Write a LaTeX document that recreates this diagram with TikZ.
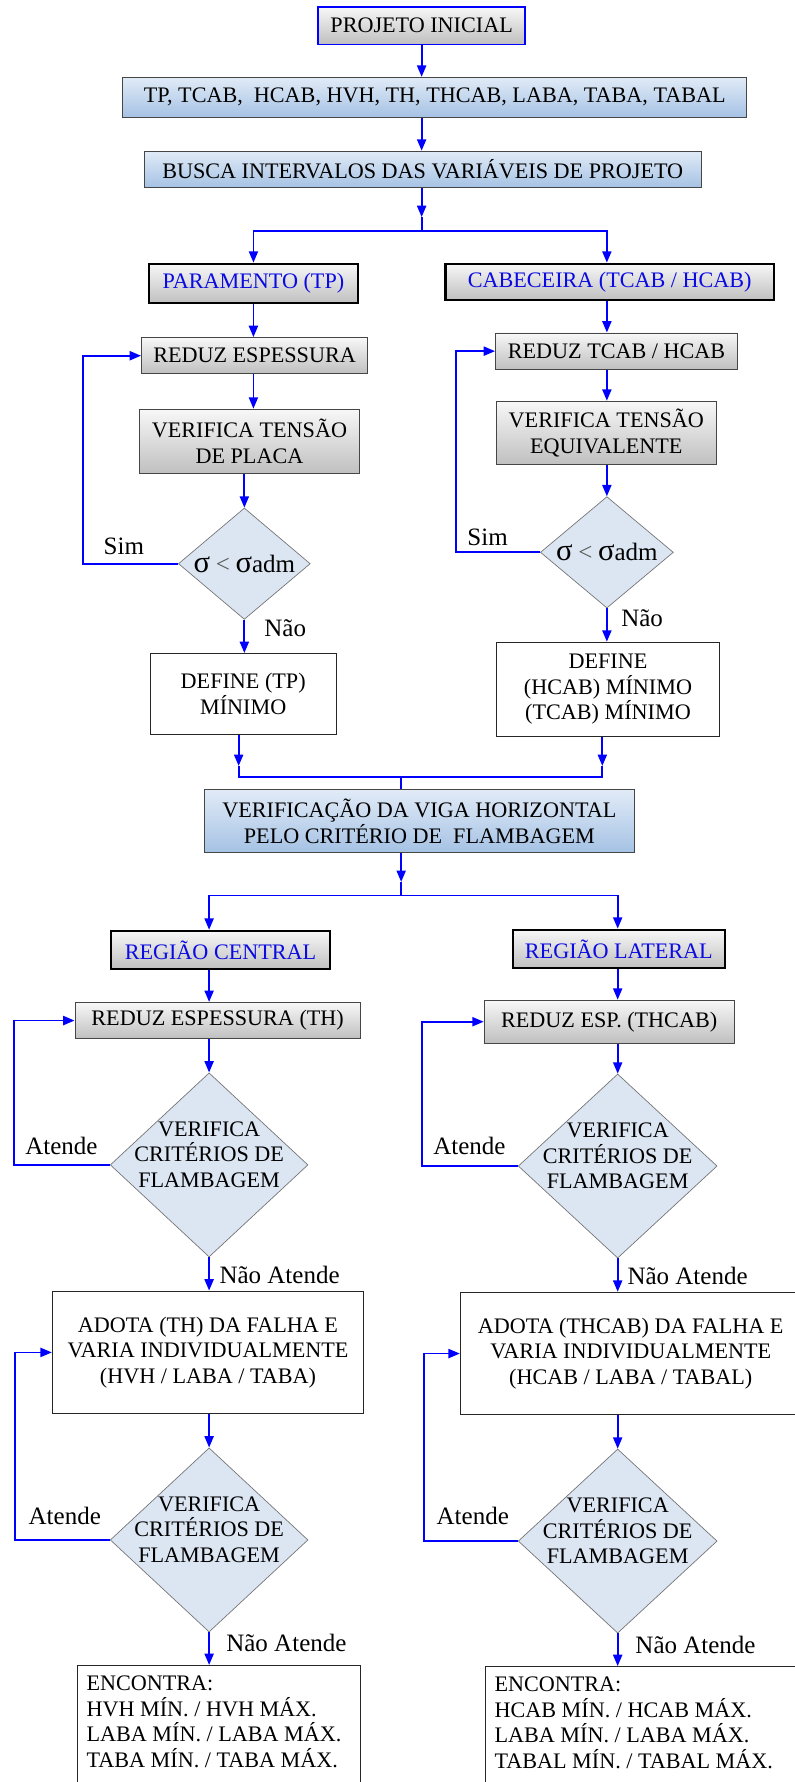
\documentclass[tikz,border=0pt]{standalone}
\usepackage{fontspec}
\setmainfont{Liberation Serif}
\usetikzlibrary{shapes.geometric,arrows.meta}
\definecolor{flowblue}{RGB}{0,0,255}
\definecolor{headblue}{RGB}{10,10,225}
\definecolor{boxline}{RGB}{70,70,70}
\definecolor{paleblue}{RGB}{220,230,242}
\definecolor{topblue}{RGB}{225,235,247}
\definecolor{lowblue}{RGB}{165,194,228}

% stress test text: sigma < sigma_adm
\newcommand{\sigmatest}{{\fontsize{27}{27}\selectfont σ}\hspace{5pt}{\color{black!65}<}\hspace{5pt}{\fontsize{27}{27}\selectfont σ}adm}

\begin{document}
\begin{tikzpicture}[x=1pt,y=-1pt]
  \tikzstyle{txt}=[font=\fontsize{19.5}{22.5}\selectfont,inner sep=0pt,align=center]
  \tikzstyle{tag}=[font=\fontsize{22}{26}\selectfont,inner sep=0pt]
  \tikzstyle{graybox}=[txt,rectangle,draw=boxline,line width=0.8pt,top color=black!3,middle color=black!8,bottom color=black!25]
  \tikzstyle{bluebox}=[txt,rectangle,draw=boxline,line width=0.8pt,top color=topblue,bottom color=lowblue]
  \tikzstyle{headbox}=[graybox,draw=black,line width=1.8pt,text=headblue]
  \tikzstyle{plainbox}=[txt,rectangle,draw=black!85,line width=0.8pt,fill=white]
  \tikzstyle{test}=[diamond,draw=black!55,line width=0.6pt,fill=paleblue,inner sep=0pt]
  \tikzstyle{flow}=[draw=flowblue,line width=1.6pt,-{Triangle[length=10pt,width=8pt]}]
  \tikzstyle{wire}=[draw=flowblue,line width=1.6pt]

  \useasboundingbox (0,0) rectangle (699,1568);

  % start
  \node [graybox,draw=flowblue,line width=1.4pt,minimum width=182pt,minimum height=33pt] (ini) at (371,22.5) {PROJETO INICIAL};
  \node [bluebox,minimum width=549pt,minimum height=35pt] (vars) at (382.5,85.5) {TP, TCAB,\ \ HCAB, HVH, TH, THCAB, LABA, TABA, TABAL};
  \node [bluebox,minimum width=490pt,minimum height=32pt] (busca) at (372,149) {BUSCA INTERVALOS DAS VARIÁVEIS DE PROJETO};

  \coordinate (t1) at (371,191);
  \coordinate (j1) at (371,203);

  % plate and head branches
  \node [headbox,minimum width=184pt,minimum height=35pt] (par) at (223,249.5) {PARAMENTO (TP)};
  \node [headbox,minimum width=289pt,minimum height=32pt] (cab) at (536.5,248) {CABECEIRA (TCAB / HCAB)};
  \node [graybox,minimum width=199pt,minimum height=32pt] (red1) at (224,313) {REDUZ ESPESSURA};
  \node [graybox,minimum width=213pt,minimum height=32pt] (red2) at (542.5,309) {REDUZ TCAB / HCAB};
  \node [graybox,minimum width=193pt,minimum height=57pt] (ver1) at (219.5,388.5) {VERIFICA TENSÃO\\DE PLACA};
  \node [graybox,minimum width=193pt,minimum height=56pt] (ver2) at (533.5,381) {VERIFICA TENSÃO\\EQUIVALENTE};
  \node [test,minimum width=116pt,minimum height=98pt,label={[tag]center:\sigmatest}] (dia1) at (215,496) {};
  \node [test,minimum width=117pt,minimum height=98pt,label={[tag]center:\sigmatest}] (dia2) at (534,486) {};
  \node [plainbox,minimum width=164pt,minimum height=71pt] (def1) at (214,610.5) {DEFINE (TP)\\MÍNIMO};
  \node [plainbox,minimum width=196pt,minimum height=83pt] (def2) at (535,606.5) {DEFINE\\(HCAB) MÍNIMO\\(TCAB) MÍNIMO};

  \node [tag] (sim1) at (109,481) {Sim};
  \node [tag] (sim2) at (429,473) {Sim};
  \node [tag] (nao1) at (251,553) {Não};
  \node [tag] (nao2) at (565,544) {Não};

  \coordinate (lp1) at (73,0);
  \coordinate (lp2) at (401,0);
  \coordinate (t2l) at (210,674);
  \coordinate (t2r) at (530,674);
  \coordinate (m2l) at (210,684);
  \coordinate (m2r) at (530,684);
  \coordinate (m2) at (353,684);

  % horizontal beam check
  \node [bluebox,minimum width=378pt,minimum height=55pt] (vhz) at (369,722.5) {VERIFICAÇÃO DA VIGA HORIZONTAL\\PELO CRITÉRIO DE\ \ FLAMBAGEM};

  \coordinate (t3) at (353,776);
  \coordinate (j3) at (353,788);

  \node [headbox,minimum width=192pt,minimum height=34pt] (reg1) at (194,836) {REGIÃO CENTRAL};
  \node [headbox,minimum width=187pt,minimum height=34pt] (reg2) at (544.5,835) {REGIÃO LATERAL};
  \node [graybox,minimum width=251pt,minimum height=32pt] (rth) at (191.5,898) {REDUZ ESPESSURA (TH)};
  \node [graybox,minimum width=220pt,minimum height=38pt] (rthc) at (536,899) {REDUZ ESP. (THCAB)};
  \node [test,minimum width=174pt,minimum height=162pt,label={[txt,yshift=9pt]center:VERIFICA\\CRITÉRIOS DE\\FLAMBAGEM}] (fl1) at (184,1025) {};
  \node [test,minimum width=175pt,minimum height=162pt,label={[txt,yshift=9pt]center:VERIFICA\\CRITÉRIOS DE\\FLAMBAGEM}] (fl2) at (543.5,1026) {};
  \node [plainbox,minimum width=274pt,minimum height=108pt] (ado1) at (183,1190) {ADOTA (TH) DA FALHA E\\VARIA INDIVIDUALMENTE\\(HVH / LABA / TABA)};
  \node [plainbox,minimum width=300pt,minimum height=108pt] (ado2) at (555,1191) {ADOTA (THCAB) DA FALHA E\\VARIA INDIVIDUALMENTE\\(HCAB / LABA / TABAL)};
  \node [test,minimum width=174pt,minimum height=162pt,label={[txt,yshift=9pt]center:VERIFICA\\CRITÉRIOS DE\\FLAMBAGEM}] (fl3) at (184,1355) {};
  \node [test,minimum width=175pt,minimum height=162pt,label={[txt,yshift=9pt]center:VERIFICA\\CRITÉRIOS DE\\FLAMBAGEM}] (fl4) at (543.5,1356) {};
  \node [plainbox,anchor=north west,minimum width=249pt,minimum height=140pt] (enc1) at (68,1465) {};
  \node [plainbox,anchor=north west,minimum width=290pt,minimum height=140pt] (enc2) at (427,1466) {};
  \node [txt,align=left,anchor=north west] (enc1t) at ([xshift=8pt,yshift=-9.5pt]enc1.north west) {ENCONTRA:\\HVH MÍN. / HVH MÁX.\\LABA MÍN. / LABA MÁX.\\TABA MÍN. / TABA MÁX.};
  \node [txt,align=left,anchor=north west] (enc2t) at ([xshift=8pt,yshift=-9.5pt]enc2.north west) {ENCONTRA:\\HCAB MÍN. / HCAB MÁX.\\LABA MÍN. / LABA MÁX.\\TABAL MÍN. / TABAL MÁX.};

  \node [tag] (at1) at (54,1008) {Atende};
  \node [tag] (at2) at (413,1008) {Atende};
  \node [tag] (at3) at (57,1334) {Atende};
  \node [tag] (at4) at (416,1334) {Atende};
  \node [tag] (na1) at (246,1122) {Não Atende};
  \node [tag] (na2) at (605,1123) {Não Atende};
  \node [tag] (na3) at (252,1446) {Não Atende};
  \node [tag] (na4) at (612,1447) {Não Atende};

  \coordinate (lp3) at (12,0);
  \coordinate (lp4) at (371,0);
  \coordinate (lp5) at (13,0);
  \coordinate (lp6) at (373,0);

  % connectors, top part
  \draw[flow] (ini.south) -- (vars.north -| ini);
  \draw[flow] (vars.south -| ini) -- (busca.north -| ini);
  \draw[flow] (busca.south -| j1) -- (t1);
  \draw[flow] (t1) -- (j1) -| (par.north);
  \draw[flow] (j1) -| (cab.north -| dia2);
  \draw[flow] (par.south) -- (red1.north -| par);
  \draw[flow] (red1.south -| par) -- (ver1.north -| par);
  \draw[flow] (ver1.south -| dia1) -- (dia1.north);
  \draw[flow] (dia1.south) -- (def1.north -| dia1);
  \draw[flow] (cab.south -| dia2) -- (red2.north -| dia2);
  \draw[flow] (red2.south -| dia2) -- (ver2.north -| dia2);
  \draw[flow] (ver2.south -| dia2) -- (dia2.north);
  \draw[flow] (dia2.south) -- (def2.north -| dia2);
  \draw[flow] (dia1.west) -- (dia1.west -| lp1) |- (red1.west);
  \draw[flow] (dia2.west) -- (dia2.west -| lp2) |- (red2.west);
  \draw[flow] (def1.south -| t2l) -- (t2l);
  \draw[flow] (def2.south -| t2r) -- (t2r);
  \draw[wire] (t2l) -- (m2l) -- (m2r) -- (t2r);
  \draw[wire] (m2) -- (vhz.north -| m2);

  % connectors, bottom part
  \draw[flow] (vhz.south -| t3) -- (t3);
  \draw[flow] (t3) -- (j3) -| (reg1.north -| fl1);
  \draw[flow] (j3) -| (reg2.north -| fl2);
  \draw[flow] (reg1.south -| fl1) -- (rth.north -| fl1);
  \draw[flow] (reg2.south -| fl2) -- (rthc.north -| fl2);
  \draw[flow] (rth.south -| fl1) -- (fl1.north);
  \draw[flow] (rthc.south -| fl2) -- (fl2.north);
  \draw[flow] (fl1.west) -- (fl1.west -| lp3) |- (rth.west);
  \draw[flow] (fl2.west) -- (fl2.west -| lp4) |- (rthc.west);
  \draw[flow] (fl1.south) -- (ado1.north -| fl1);
  \draw[flow] (fl2.south) -- (ado2.north -| fl2);
  \draw[flow] (ado1.south -| fl3) -- (fl3.north);
  \draw[flow] (ado2.south -| fl4) -- (fl4.north);
  \draw[flow] (fl3.west) -- (fl3.west -| lp5) |- (ado1.west);
  \draw[flow] (fl4.west) -- (fl4.west -| lp6) |- (ado2.west);
  \draw[flow] (fl3.south) -- (enc1.north -| fl3);
  \draw[flow] (fl4.south) -- (enc2.north -| fl4);
\end{tikzpicture}
\end{document}
